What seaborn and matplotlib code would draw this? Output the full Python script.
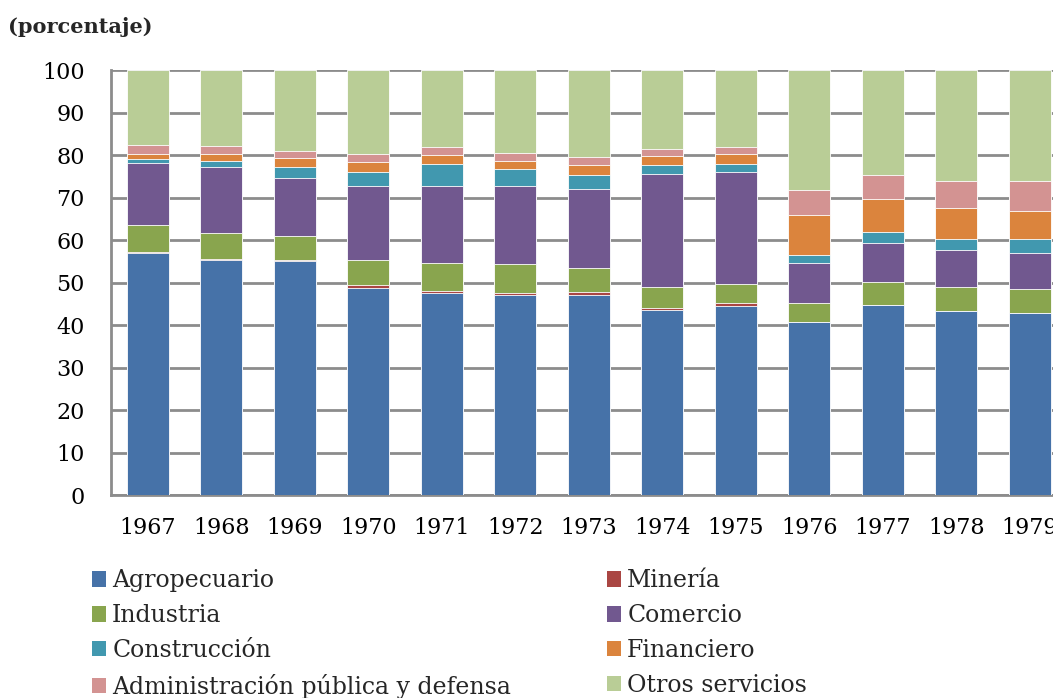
import matplotlib
matplotlib.use("Agg")
import matplotlib.pyplot as plt
from matplotlib.patches import Patch
import seaborn as sns
import numpy as np
import pandas as pd

years = ["1967", "1968", "1969", "1970", "1971", "1972", "1973",
         "1974", "1975", "1976", "1977", "1978", "1979"]

agropecuario = [57.0, 55.4, 55.1, 48.8, 47.6, 47.0, 47.0, 43.6, 44.5, 40.8, 44.8, 43.3, 42.9]
mineria      = [0.1, 0.1, 0.1, 0.5, 0.5, 0.5, 0.7, 0.5, 0.6, 0.0, 0.0, 0.0, 0.0]
industria    = [6.5, 6.1, 5.7, 5.9, 6.4, 6.8, 5.7, 4.9, 4.6, 4.4, 5.4, 5.6, 5.6]
comercio     = [14.5, 15.6, 13.8, 17.5, 18.1, 18.5, 18.7, 26.5, 26.2, 9.3, 9.2, 8.8, 8.5]
construccion = [1.0, 1.3, 2.5, 3.4, 5.4, 4.0, 3.2, 2.2, 2.1, 2.0, 2.4, 2.5, 3.2]
financiero   = [1.2, 1.7, 2.1, 2.3, 1.9, 1.9, 2.4, 2.1, 2.2, 9.4, 7.9, 7.4, 6.7]
administracion = [2.0, 1.9, 1.7, 1.8, 2.0, 1.8, 1.8, 1.6, 1.6, 5.9, 5.6, 6.3, 7.1]
otros        = [17.7, 17.9, 19.0, 19.8, 18.1, 19.5, 20.5, 18.6, 18.2, 28.2, 24.7, 26.1, 26.0]

sectors = ["Agropecuario", "Minería", "Industria", "Comercio",
           "Construcción", "Financiero", "Administración pública y defensa",
           "Otros servicios"]
series = [agropecuario, mineria, industria, comercio, construccion,
          financiero, administracion, otros]
colors = ["#4672A8", "#AA4643", "#89A54E", "#71588F",
          "#4198AF", "#DB843D", "#D39392", "#B9CD96"]

sns.set_theme(style="white")
plt.rcParams["font.family"] = ["DejaVu Serif"]

fig = plt.figure(figsize=(10.53, 6.98), dpi=100)
ax = fig.add_axes([0.1054, 0.2908, 0.9074, 0.6089])

cum = np.cumsum(np.array(series), axis=0)
# draw from top layer down so each lower layer covers the part below
for i in range(len(series) - 1, -1, -1):
    df = pd.DataFrame({"year": years, "value": cum[i]})
    sns.barplot(data=df, x="year", y="value", color=colors[i], width=0.57,
                edgecolor="white", linewidth=0.6, saturation=1, ax=ax,
                zorder=3)

ax.set_xlim(-0.5, 12.5)
ax.set_ylim(0, 100)
ax.set_yticks(range(0, 101, 10))
ax.set_xlabel("")
ax.set_ylabel("")
ax.grid(axis="y", color="#8C8C8C", linewidth=2, zorder=0)
ax.set_axisbelow(True)
for s in ["top", "right"]:
    ax.spines[s].set_visible(False)
for s in ["left", "bottom"]:
    ax.spines[s].set_color("#8C8C8C")
    ax.spines[s].set_linewidth(2)
ax.tick_params(axis="both", length=0, labelsize=16, colors="black")
ax.tick_params(axis="y", pad=19)
ax.tick_params(axis="x", pad=16)

fig.text(0.008, 0.962, "(porcentaje)", fontsize=15, fontweight="bold",
         ha="left", va="center")

order = [0, 2, 4, 6, 1, 3, 5, 7]
handles = [Patch(facecolor=colors[i], edgecolor="none", label=sectors[i]) for i in order]
fig.legend(handles=handles, ncol=2, loc="upper left",
           bbox_to_anchor=(0.087, 0.1843), frameon=False, fontsize=17,
           handlelength=0.62, handleheight=0.62, handletextpad=0.25,
           labelspacing=0.5, columnspacing=4.05, borderpad=0, borderaxespad=0)

fig.savefig("out.png", dpi=100)
